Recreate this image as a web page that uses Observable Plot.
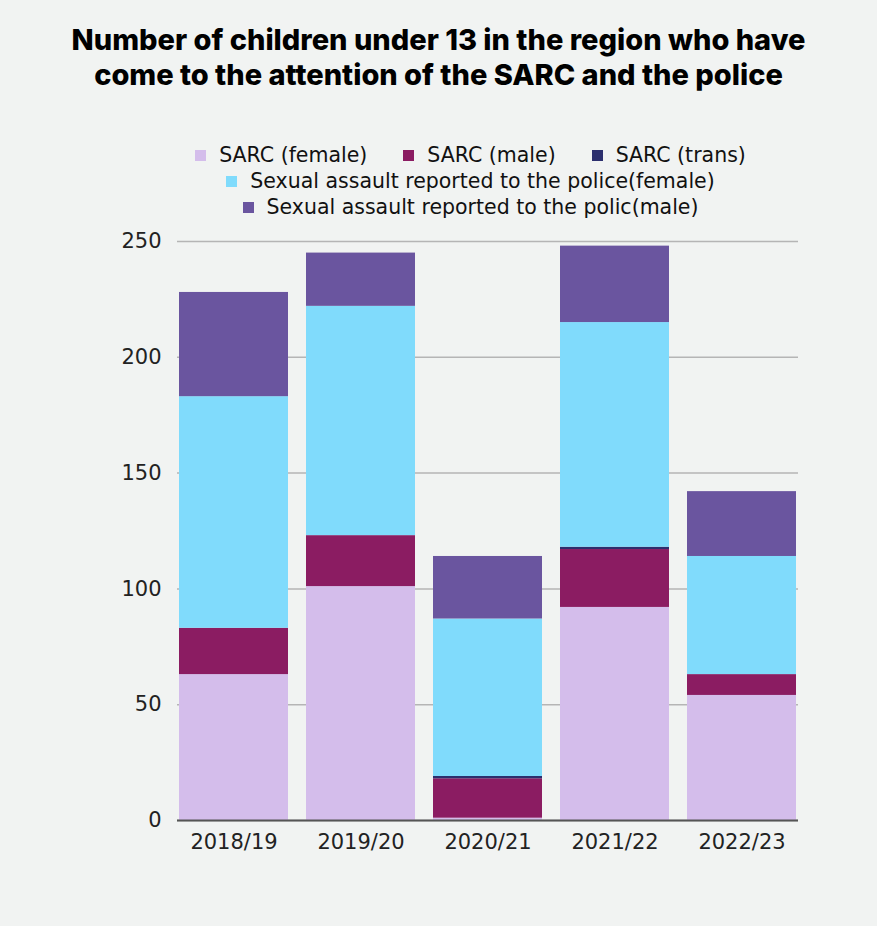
<!DOCTYPE html>
<html>
<head>
<meta charset="utf-8">
<script src="https://cdn.jsdelivr.net/npm/d3@7"></script>
<script src="https://cdn.jsdelivr.net/npm/@observablehq/plot@0.6"></script>
<style>
  html, body { margin: 0; padding: 0; background: #f1f3f2; }
  body { width: 877px; height: 926px; overflow: hidden; }
  #title { font-family: "Inter", "Open Sans", sans-serif; font-weight: 800; font-size: 29px; line-height: 35px; text-align: center; color: #000; padding-top: 22px; height: 98px; box-sizing: border-box; }
  #legend { padding-left: 64px; margin-top: 44px; font-family: "DejaVu Sans", sans-serif; font-size: 20.5px; line-height: 24px; color: #111; height: 83px; box-sizing: border-box; }
  .row { display: flex; justify-content: center; height: 26px; align-items: center; }
  .item { display: flex; align-items: center; margin: 0 18px; line-height: 24px; }
  .item span { line-height: 24px; }
  .sw { width: 11px; height: 11px; margin-right: 13px; }
  #chart svg { display: block; }
</style>
</head>
<body>
<div id="title">Number of children under 13 in the region who have<br>come to the attention of the SARC and the police</div>
<div id="legend"></div>
<div id="chart"></div>
<script>
const years = ["2018/19", "2019/20", "2020/21", "2021/22", "2022/23"];
const seriesNames = [
  "SARC (female)",
  "SARC (male)",
  "SARC (trans)",
  "Sexual assault reported to the police(female)",
  "Sexual assault reported to the polic(male)"
];
const seriesColors = ["#d4bdeb", "#8b1c62", "#2c2f6e", "#80dbfc", "#6a559f"];
const sarcFemale   = [63, 101, 1, 92, 54];
const sarcMale     = [20, 22, 17, 25, 9];
const sarcTrans    = [0, 0, 1, 1, 0];
const policeFemale = [100, 99, 68, 97, 51];
const policeMale   = [45, 23, 27, 33, 28];
const yTicks = [0, 50, 100, 150, 200, 250];
const legendRows = [[0, 1, 2], [3], [4]];

const values = [sarcFemale, sarcMale, sarcTrans, policeFemale, policeMale];
const table = [];
years.forEach((y, i) => {
  seriesNames.forEach((s, k) => table.push({year: y, series: s, value: values[k][i]}));
});

// Legend
const legend = document.getElementById("legend");
legendRows.forEach(r => {
  const row = document.createElement("div");
  row.className = "row";
  r.forEach(k => {
    const it = document.createElement("div");
    it.className = "item";
    const sw = document.createElement("span");
    sw.className = "sw";
    sw.style.background = seriesColors[k];
    const t = document.createElement("span");
    t.textContent = seriesNames[k];
    it.appendChild(sw); it.appendChild(t);
    row.appendChild(it);
  });
  legend.appendChild(row);
});

const chart = Plot.plot({
  width: 877,
  height: 635,
  marginTop: 16,
  marginBottom: 40,
  marginLeft: 177,
  marginRight: 79,
  style: {background: "transparent", fontFamily: "DejaVu Sans, sans-serif", fontSize: "21px", color: "#222"},
  x: {domain: years, label: null, padding: 0.14, paddingOuter: 0, tickSize: 0, tickPadding: 14},
  y: {domain: [0, 250], ticks: yTicks, label: null, tickSize: 0, tickPadding: 16},
  color: {domain: seriesNames, range: seriesColors},
  marks: [
    Plot.ruleY(yTicks, {stroke: "#b5b5b5", strokeWidth: 1.5}),
    Plot.barY(table, {x: "year", y: "value", fill: "series"}),
    Plot.ruleY([0], {stroke: "#555", strokeWidth: 2})
  ]
});
document.getElementById("chart").appendChild(chart);
</script>
</body>
</html>
